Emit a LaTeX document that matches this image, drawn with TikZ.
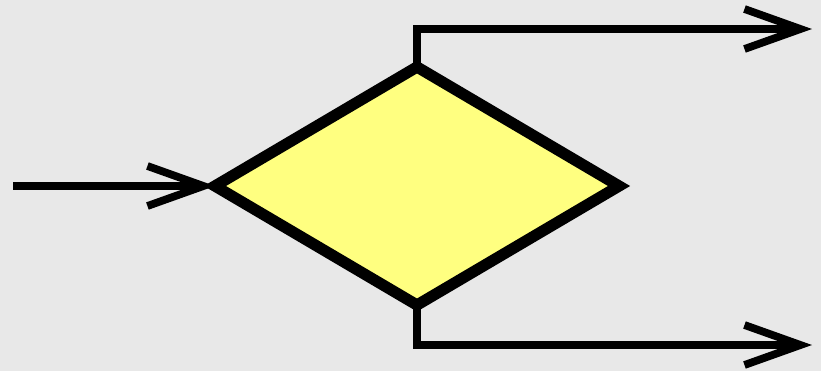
\documentclass[tikz,border=0pt]{standalone}
\usetikzlibrary{shapes.geometric,arrows.meta}
\definecolor{DecYellow}{HTML}{FFFF80}
\definecolor{Marble}{HTML}{E8E8E8}

\begin{document}
\begin{tikzpicture}[x=0.025cm,y=-0.025cm,
    flow/.style={line width=5.2pt,-{Straight Barb[length=14mm,width=10mm,line width=5.5pt]}},
    decision/.style={diamond,draw=black,fill=DecYellow,line width=8pt,inner sep=0pt,outer sep=0pt,minimum width=10.1cm,minimum height=5.95cm}]
  \fill[Marble] (0,0) rectangle (821,371);
  \useasboundingbox (0,0) rectangle (821,371);

  \node[decision] (dec) at (417,186) {};
  \coordinate (in) at (13,186);
  \coordinate (outA) at (812,29);
  \coordinate (outB) at (812,345);

  \draw[flow] (in) -- (dec.west);
  \draw[flow] (dec.north) |- (outA);
  \draw[flow] (dec.south) |- (outB);
\end{tikzpicture}
\end{document}
